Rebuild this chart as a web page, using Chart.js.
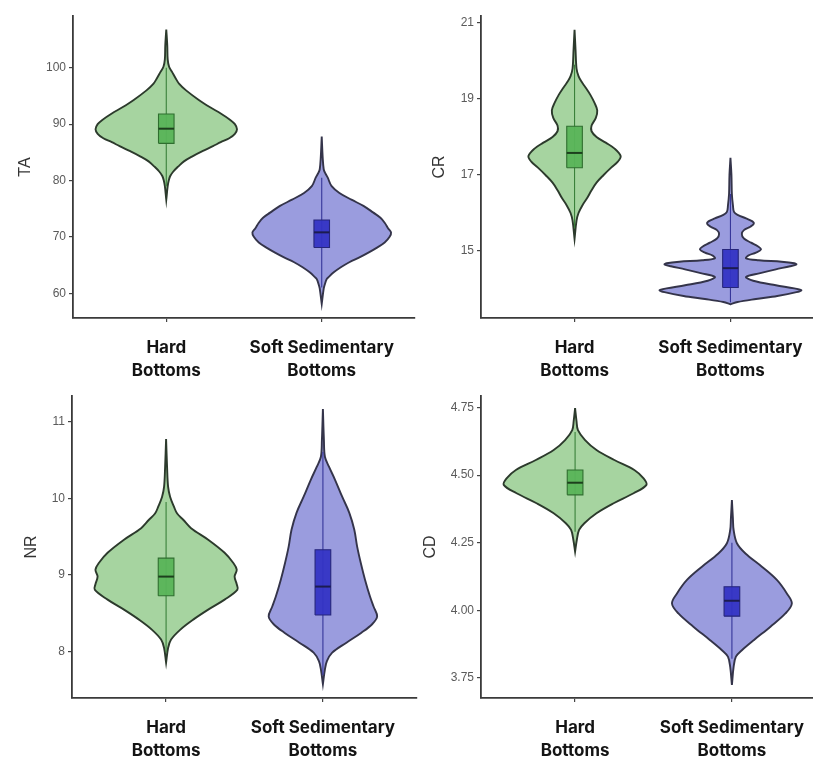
<!DOCTYPE html>
<html><head><meta charset="utf-8">
<script src="https://cdn.jsdelivr.net/npm/chart.js@4/dist/chart.umd.min.js"></script>
<style>
html,body{margin:0;padding:0;background:#fff;overflow:hidden;width:813px;height:760px;position:relative}
canvas{position:absolute}
</style></head><body>
<canvas id="c1" width="420" height="380" style="left:0;top:0"></canvas>
<canvas id="c2" width="425" height="380" style="left:405px;top:0"></canvas>
<canvas id="c3" width="420" height="380" style="left:0;top:380px"></canvas>
<canvas id="c4" width="425" height="380" style="left:405px;top:380px"></canvas>
<script>
// ---------- data ----------
const categories = [['Hard', 'Bottoms'], ['Soft Sedimentary', 'Bottoms']];

// TA
const taTicks = [60, 70, 80, 90, 100];
const taTickLabels = ['60', '70', '80', '90', '100'];
const taRange = [55.6, 109.2];
const taHardY = [106.8,104,101.5,100.2,99.2,98.2,97.2,96,94.3,93,91.9,90.8,90.0,89.1,88.3,87.5,86.8,86.1,85.2,84.3,83.4,82.5,81.6,80.8,80.0,79.0,76.6];
const taHardD = [0,.014,.02,.04,.085,.13,.18,.28,.46,.62,.77,.90,.97,1,.97,.89,.77,.66,.51,.37,.25,.17,.10,.056,.035,.02,0];
const taSoftY = [87.8,84,82,81.4,80.5,79.0,77.8,76.6,75.5,74.3,73.4,72.5,71.5,70.8,70.0,69.0,68.0,67.2,66.4,65.5,64.6,63.7,62.9,62.5,61.5,60.8,58.1];
const taSoftD = [0,.014,.028,.046,.085,.14,.25,.42,.59,.73,.83,.89,.94,.98,.96,.89,.77,.66,.54,.39,.27,.17,.10,.07,.042,.028,0];
const taHardBox = [79, 86.6, 89.2, 91.8, 100];
const taSoftBox = [61, 68.1, 70.8, 73.0, 80.5];

// CR
const crTicks = [15, 17, 19, 21];
const crTickLabels = ['15', '17', '19', '21'];
const crRange = [13.24, 21.18];
const crHardY = [20.82,20.3,19.8,19.6,19.45,19.3,19.1,18.9,18.7,18.5,18.3,18.15,18.0,17.85,17.7,17.5,17.35,17.2,17.0,16.8,16.6,16.4,16.2,16.0,15.8,15.32];
const crHardD = [0,.014,.028,.056,.10,.155,.225,.28,.32,.30,.24,.24,.31,.44,.56,.65,.61,.52,.41,.31,.24,.18,.11,.056,.028,0];
const crSoftY = [17.45,17.0,16.5,16.2,16.03,15.95,15.86,15.78,15.72,15.64,15.55,15.45,15.33,15.22,15.12,15.04,14.96,14.88,14.81,14.76,14.72,14.68,14.65,14.60,14.52,14.42,14.32,14.22,14.10,14.02,13.97,13.92,13.82,13.74,13.66,13.6];
const crSoftD = [0,.014,.02,.035,.05,.10,.22,.31,.33,.28,.19,.16,.19,.29,.39,.43,.36,.25,.22,.40,.72,.90,.93,.84,.64,.42,.22,.32,.64,.90,1.0,.93,.66,.36,.10,0];
const crHardBox = [15.6, 17.19, 17.58, 18.28, 19.9];
const crSoftBox = [13.65, 14.04, 14.55, 15.04, 16.5];

// NR
const nrTicks = [8, 9, 10, 11];
const nrTickLabels = ['8', '9', '10', '11'];
const nrRange = [7.40, 11.33];
const nrHardY = [10.77,10.4,10.15,10.02,9.89,9.80,9.72,9.61,9.46,9.29,9.16,9.07,8.98,8.88,8.81,8.68,8.55,8.42,8.29,8.16,8.05,7.86];
const nrHardD = [0,.014,.028,.056,.11,.155,.24,.35,.59,.82,.94,.99,.96,.99,1.0,.82,.59,.38,.20,.07,.028,0];
const nrSoftY = [11.16,10.76,10.54,10.41,10.24,10.02,9.81,9.59,9.37,9.16,8.94,8.72,8.59,8.46,8.36,8.25,8.12,7.99,7.88,7.77,7.58];
const nrSoftD = [0,.014,.028,.085,.17,.27,.37,.44,.48,.53,.59,.66,.71,.76,.69,.54,.33,.13,.056,.028,0];
const nrHardBox = [8.0, 8.73, 8.98, 9.22, 9.95];
const nrSoftBox = [7.7, 8.48, 8.85, 9.33, 10.6];

// CD
const cdTicks = [3.75, 4.00, 4.25, 4.50, 4.75];
const cdTickLabels = ['3.75', '4.00', '4.25', '4.50', '4.75'];
const cdRange = [3.675, 4.793];
const cdHardY = [4.748,4.70,4.667,4.63,4.593,4.556,4.519,4.488,4.464,4.433,4.396,4.359,4.322,4.297,4.26,4.217];
const cdHardD = [0,.02,.04,.14,.30,.55,.83,.96,1.0,.82,.54,.30,.13,.056,.024,0];
const cdSoftY = [4.408,4.34,4.297,4.248,4.21,4.161,4.112,4.062,4.025,3.988,3.939,3.89,3.852,3.828,3.79,3.723];
const cdSoftD = [0,.014,.024,.07,.19,.42,.63,.77,.84,.75,.54,.31,.14,.056,.024,0];
const cdHardBox = [4.29, 4.427, 4.472, 4.519, 4.66];
const cdSoftBox = [3.82, 3.978, 4.035, 4.087, 4.25];

// ---------- styles ----------
const GREEN = {fill: 'rgba(166,212,160,1)', edge: '#2c3a2c', whisk: '#3a803a', box: 'rgba(88,180,88,0.95)', boxEdge: '#2f6e2f', med: '#1d3f1d'};
const BLUE  = {fill: 'rgba(154,156,222,1)', edge: '#34344a', whisk: '#36369a', box: 'rgba(52,52,196,0.95)', boxEdge: '#26267a', med: '#1c1c50'};
const HALF = 0.455;   // max half-width of a violin (x units)
const BOXHALF = 0.05;

function violinPoints(c, ys, ds) {
  const right = ys.map((y, i) => ({x: c + ds[i] * HALF, y}));
  const left = ys.map((y, i) => ({x: c - ds[i] * HALF, y})).reverse();
  return right.concat(left);
}

function groupDatasets(c, ys, ds, st, col) {
  return [
    {data: violinPoints(c, ys, ds), showLine: true, fill: 'shape', backgroundColor: col.fill,
     borderColor: col.edge, borderWidth: 1.9, tension: 0.35, pointRadius: 0, order: 4},
    {data: [{x: c, y: st[0]}, {x: c, y: st[4]}], showLine: true, fill: false,
     borderColor: col.whisk, borderWidth: 1.1, pointRadius: 0, order: 3},
    {data: [{x: c - BOXHALF, y: st[1]}, {x: c + BOXHALF, y: st[1]}, {x: c + BOXHALF, y: st[3]},
            {x: c - BOXHALF, y: st[3]}, {x: c - BOXHALF, y: st[1]}],
     showLine: true, fill: 'shape', backgroundColor: col.box, borderColor: col.boxEdge,
     borderWidth: 1.1, tension: 0, pointRadius: 0, order: 2},
    {data: [{x: c - BOXHALF, y: st[2]}, {x: c + BOXHALF, y: st[2]}], showLine: true, fill: false,
     borderColor: col.med, borderWidth: 2, pointRadius: 0, order: 1}
  ];
}

function makePanel(id, p) {
  const datasets = [].concat(
    groupDatasets(1, p.hardY, p.hardD, p.hardBox, GREEN),
    groupDatasets(2, p.softY, p.softD, p.softBox, BLUE)
  );
  new Chart(document.getElementById(id), {
    type: 'scatter',
    data: {datasets},
    options: {
      responsive: false, animation: false, events: [],
      layout: {padding: {top: 16, left: 0, right: p.padRight, bottom: 0}},
      plugins: {legend: {display: false}, tooltip: {enabled: false}},
      scales: {
        x: {
          type: 'linear', min: 0.4, max: 2.6,
          afterBuildTicks: s => { s.ticks = [{value: 1}, {value: 2}]; },
          afterFit: s => { s.height = 62; },
          ticks: {callback: v => categories[Math.round(v) - 1], autoSkip: false, maxRotation: 0,
                  font: {family: 'Inter', size: 17, weight: 'bold', lineHeight: 1.37},
                  color: '#141414', padding: 14},
          grid: {display: true, drawOnChartArea: false, drawTicks: true, tickLength: 4, color: '#444', lineWidth: 1.2},
          border: {display: true, color: '#3a3a3a', width: 1.8}
        },
        y: {
          type: 'linear', min: p.range[0], max: p.range[1],
          afterBuildTicks: s => { s.ticks = p.ticks.map(v => ({value: v})); },
          afterFit: s => { s.width = p.yWidth; },
          ticks: {callback: (v) => p.labels[p.ticks.indexOf(v)], font: {family: 'Liberation Sans', size: 12},
                  color: '#5a5a5a', padding: 3},
          grid: {display: true, drawOnChartArea: false, drawTicks: true, tickLength: 4, color: '#444', lineWidth: 1.2},
          border: {display: true, color: '#3a3a3a', width: 1.8},
          title: {display: true, text: p.title, color: '#333', font: {family: 'Liberation Sans', size: 16},
                  padding: {top: p.titlePad, bottom: 0}}
        }
      }
    }
  });
}

makePanel('c1', {title: 'TA', ticks: taTicks, labels: taTickLabels, range: taRange,
  hardY: taHardY, hardD: taHardD, softY: taSoftY, softD: taSoftD, hardBox: taHardBox, softBox: taSoftBox,
  yWidth: 73, padRight: 5, titlePad: 16});
makePanel('c2', {title: 'CR', ticks: crTicks, labels: crTickLabels, range: crRange,
  hardY: crHardY, hardD: crHardD, softY: crSoftY, softD: crSoftD, hardBox: crHardBox, softBox: crSoftBox,
  yWidth: 76, padRight: 6, titlePad: 25});
makePanel('c3', {title: 'NR', ticks: nrTicks, labels: nrTickLabels, range: nrRange,
  hardY: nrHardY, hardD: nrHardD, softY: nrSoftY, softD: nrSoftD, hardBox: nrHardBox, softBox: nrSoftBox,
  yWidth: 72, padRight: 3, titlePad: 22});
makePanel('c4', {title: 'CD', ticks: cdTicks, labels: cdTickLabels, range: cdRange,
  hardY: cdHardY, hardD: cdHardD, softY: cdSoftY, softD: cdSoftD, hardBox: cdHardBox, softBox: cdSoftBox,
  yWidth: 76, padRight: 4, titlePad: 16});
</script>
</body></html>
